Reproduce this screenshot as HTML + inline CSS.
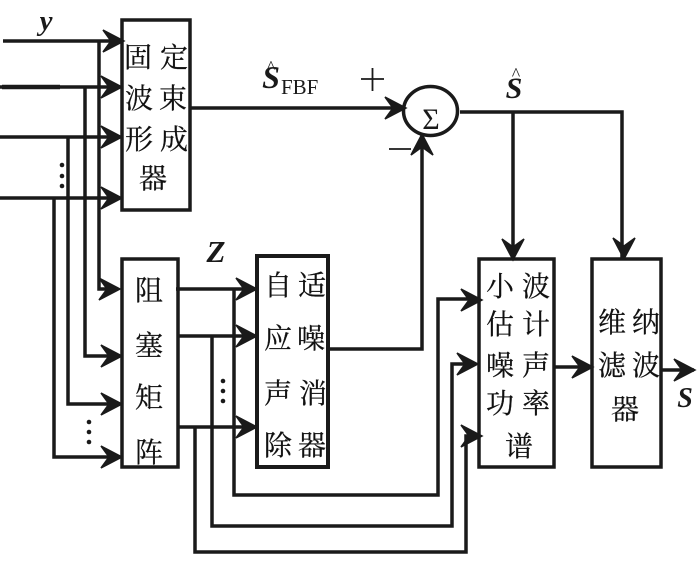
<!DOCTYPE html>
<html><head><meta charset="utf-8">
<style>
html,body{margin:0;padding:0;background:#fff;width:700px;height:566px;overflow:hidden}
svg{display:block}
.c{font-family:"Liberation Serif","Noto Serif CJK SC",serif;font-size:28px;fill:#111;text-anchor:middle;stroke:#111;stroke-width:.25px}
.v{font-family:"Liberation Serif",serif;font-weight:bold;font-style:italic;fill:#1a1a1a;text-anchor:middle}
</style></head><body>
<svg width="700" height="566" viewBox="0 0 700 566" xmlns="http://www.w3.org/2000/svg">
<defs>
<path id="a" d="M-21,-11 L0,0 L-21,11 L-13,0 Z" fill="#1a1a1a" stroke="#1a1a1a" stroke-width="1.500"/>
</defs>
<g fill="none" stroke="#1a1a1a" stroke-width="3.500">
<path d="M3,41H122M0,87H120M0,137H120M0,198H120" />
<path d="M2,87H60" stroke-width="4.500"/>
<path d="M99,41V289H118M85,87V356H120M68,137V404H120M54,198V457H120"/>
<path d="M176,289H255M178,336H255M178,427H255"/>
<path d="M234,289V495H438V299H478"/>
<path d="M212,336V526H452V364H476"/>
<path d="M195,427V552H466V436H480"/>
<path d="M190,108H404"/>
<path d="M329,349H422V135"/>
<path d="M460,112H622V258"/>
<path d="M513,112V258"/>
<path d="M554,367H591"/>
<path d="M661,370H694"/>
<rect x="122" y="20" width="68" height="190"/>
<rect x="122" y="259" width="56" height="208"/>
<rect x="257" y="256" width="71" height="211" stroke-width="4"/>
<rect x="479" y="259" width="75" height="208"/>
<rect x="592" y="259" width="69" height="208"/>
<ellipse cx="430.500" cy="111" rx="27" ry="24.500" stroke-width="3.500"/>
</g>
<g>
<use href="#a" transform="translate(124,41)"/>
<use href="#a" transform="translate(122,87)"/>
<use href="#a" transform="translate(122,137)"/>
<use href="#a" transform="translate(122,198)"/>
<use href="#a" transform="translate(120,289)"/>
<use href="#a" transform="translate(122,356)"/>
<use href="#a" transform="translate(122,404)"/>
<use href="#a" transform="translate(122,457)"/>
<use href="#a" transform="translate(257,289)"/>
<use href="#a" transform="translate(257,336)"/>
<use href="#a" transform="translate(257,427)"/>
<use href="#a" transform="translate(406,108)"/>
<use href="#a" transform="translate(422,134) rotate(-90)"/>
<use href="#a" transform="translate(513,260) rotate(90)"/>
<use href="#a" transform="translate(624,259) rotate(90)"/>
<use href="#a" transform="translate(482,300)"/>
<use href="#a" transform="translate(478,364)"/>
<use href="#a" transform="translate(482,436)"/>
<use href="#a" transform="translate(593,367)"/>
<use href="#a" transform="translate(695,370)"/>
</g>
<g fill="#1a1a1a">
<circle cx="62" cy="165" r="2.300"/><circle cx="62" cy="176" r="2.300"/><circle cx="62" cy="186" r="2.300"/>
<circle cx="89" cy="422" r="2.300"/><circle cx="89" cy="432" r="2.300"/><circle cx="89" cy="442" r="2.300"/>
<circle cx="223" cy="381" r="2.300"/><circle cx="223" cy="391" r="2.300"/><circle cx="223" cy="401" r="2.300"/>
</g>
<g>
<text class="c" x="138" y="67">固</text><text class="c" x="174" y="67">定</text>
<text class="c" x="139" y="108">波</text><text class="c" x="173" y="108">束</text>
<text class="c" x="139" y="149">形</text><text class="c" x="174" y="149">成</text>
<text class="c" x="153" y="188">器</text>
<text class="c" x="149" y="300">阻</text>
<text class="c" x="149" y="355">塞</text>
<text class="c" x="149" y="407">矩</text>
<text class="c" x="149" y="462">阵</text>
<text class="c" x="278" y="295">自</text><text class="c" x="312" y="295">适</text>
<text class="c" x="278" y="348">应</text><text class="c" x="311" y="348">噪</text>
<text class="c" x="278" y="403">声</text><text class="c" x="313" y="403">消</text>
<text class="c" x="278" y="455">除</text><text class="c" x="312" y="455">器</text>
<text class="c" x="500" y="296">小</text><text class="c" x="536" y="296">波</text>
<text class="c" x="500" y="334">估</text><text class="c" x="536" y="334">计</text>
<text class="c" x="500" y="375">噪</text><text class="c" x="536" y="375">声</text>
<text class="c" x="500" y="413">功</text><text class="c" x="536" y="413">率</text>
<text class="c" x="519" y="456">谱</text>
<text class="c" x="612" y="332">维</text><text class="c" x="646" y="332">纳</text>
<text class="c" x="612" y="375">滤</text><text class="c" x="646" y="375">波</text>
<text class="c" x="625" y="419">器</text>
</g>
<text class="v" x="46" y="30" font-size="29">y</text>
<text class="v" x="216" y="262" font-size="31">Z</text>
<text class="v" x="271" y="88" font-size="32">S</text>
<text x="271" y="73" font-family="Liberation Serif,serif" font-size="18" fill="#1a1a1a" text-anchor="middle">^</text>
<text x="281" y="94" font-family="Liberation Serif,serif" font-size="21" fill="#1a1a1a">FBF</text>
<text class="v" x="514" y="98" font-size="30">S</text>
<text x="516" y="80" font-family="Liberation Serif,serif" font-size="18" fill="#1a1a1a" text-anchor="middle">^</text>
<text class="v" x="685" y="407" font-size="28">S</text>
<text x="431" y="129" font-family="Liberation Serif,serif" font-size="30" fill="#1a1a1a" text-anchor="middle">Σ</text>
<path d="M361,79H384M372.500,68V91M389,149H411" stroke="#1a1a1a" stroke-width="1.800" fill="none"/>
</svg>
</body></html>
